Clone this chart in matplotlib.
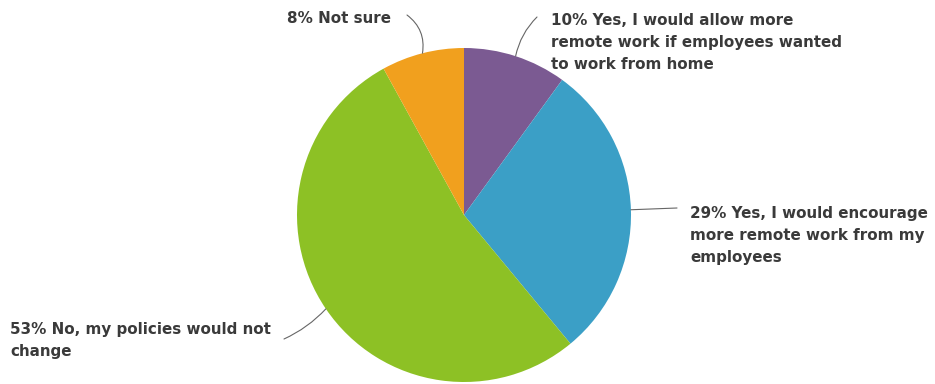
import numpy as np
import matplotlib
matplotlib.use('Agg')
import matplotlib.pyplot as plt

labels = ['10% Yes, I would allow more\nremote work if employees wanted\nto work from home',
          '29% Yes, I would encourage\nmore remote work from my\nemployees',
          '53% No, my policies would not\nchange',
          '8% Not sure']
values = [10, 29, 53, 8]
colors = ['#7b5a92', '#3b9fc6', '#8dc125', '#f1a01e']

W, H = 935, 384
fig = plt.figure(figsize=(W / 100, H / 100), dpi=100)
ax = fig.add_axes([0, 0, 1, 1])

cx, cy, r = 464, H - 215, 167
wedges, _ = ax.pie(values, colors=colors, startangle=90, counterclock=False,
                   center=(cx, cy), radius=r, frame=True,
                   wedgeprops=dict(linewidth=0))
ax.set_xlim(0, W)
ax.set_ylim(0, H)
ax.set_aspect('equal')
ax.axis('off')

# label text position (left, top in pixels), leader end, curvature
text_pos = [(551, 13), (690, 206), (10, 322), (287, 11)]
line_end = [(537, 17), (677, 208), (284, 339), (407, 15)]
rads = [0.15, 0.0, 0.1, -0.3]

for w, lab, tp, le, rad in zip(wedges, labels, text_pos, line_end, rads):
    ang = np.deg2rad((w.theta1 + w.theta2) / 2)
    x0 = cx + r * np.cos(ang)
    y0 = cy + r * np.sin(ang)
    ax.annotate('', xy=(x0, y0), xytext=(le[0], H - le[1]),
                arrowprops=dict(arrowstyle='-', color='#666666', lw=0.8,
                                shrinkA=0, shrinkB=0,
                                connectionstyle='arc3,rad=%s' % rad))
    ax.text(tp[0], H - tp[1], lab, ha='left', va='top', fontsize=10.9,
            fontweight='bold', color='#3a3a3a', linespacing=1.6)

plt.savefig('out.png', dpi=100)
